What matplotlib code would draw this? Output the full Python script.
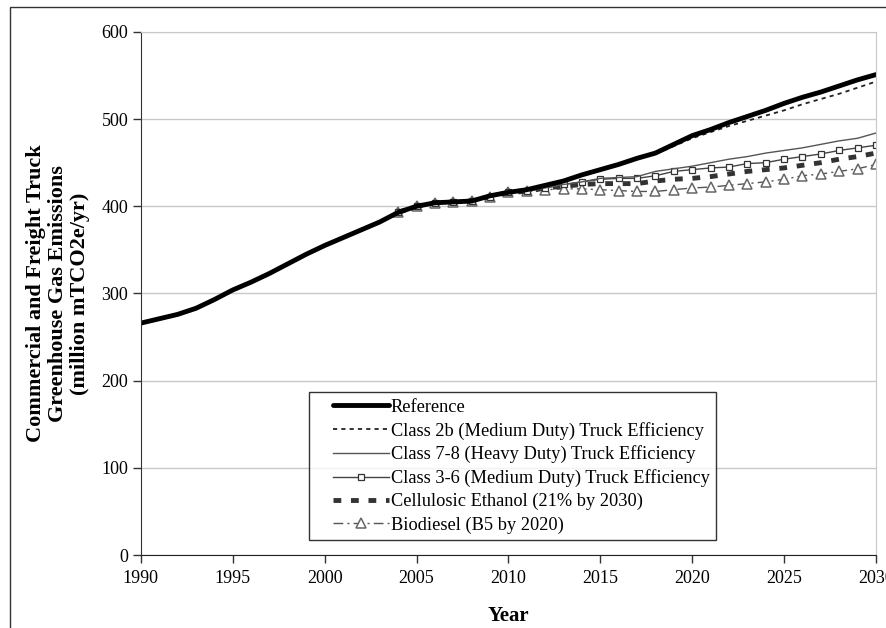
import matplotlib
matplotlib.use('Agg')
import matplotlib.pyplot as plt
from matplotlib.patches import Rectangle
from matplotlib.lines import Line2D
from matplotlib.legend_handler import HandlerLine2D

# Reference case, 1990-2030
ref_years = list(range(1990, 2031))
reference = [266, 271, 276, 283, 293, 304, 313, 323, 334, 345,
             355, 364, 373, 382, 393, 400, 404, 405, 406, 412,
             416, 419, 424, 429, 436, 442, 448, 455, 461, 471,
             481, 488, 496, 503, 510, 518, 525, 531, 538, 545, 551]

# Scenarios, 2004-2030
scen_years = list(range(2004, 2031))
class_2b = [393, 400, 404, 405, 406, 412,
            416, 419, 424, 429, 436, 442, 448, 455, 460, 469,
            478, 485, 492, 498, 504, 510, 517, 523, 529, 536, 543]
class_78 = [393, 400, 404, 405, 406, 411,
            416, 418, 421, 425, 428, 432, 433, 434, 440, 443,
            446, 450, 454, 457, 461, 464, 467, 471, 475, 478, 484]
class_36 = [393, 400, 404, 405, 406, 411,
            416, 417, 421, 425, 428, 431, 432, 432, 435, 440,
            442, 444, 445, 449, 450, 454, 457, 460, 464, 467, 470]
ethanol = [393, 400, 404, 405, 406, 411,
           416, 417, 421, 423, 425, 426, 426, 426, 429, 431,
           432, 434, 437, 440, 442, 444, 447, 450, 454, 457, 461]
biodiesel = [393, 400, 404, 405, 406, 411,
             416, 417, 419, 420, 420, 419, 418, 417, 417, 419,
             421, 422, 424, 426, 428, 431, 435, 437, 440, 443, 448]

labels = ['Reference',
          'Class 2b (Medium Duty) Truck Efficiency',
          'Class 7-8 (Heavy Duty) Truck Efficiency',
          'Class 3-6 (Medium Duty) Truck Efficiency',
          'Cellulosic Ethanol (21% by 2030)',
          'Biodiesel (B5 by 2020)']

plt.rcParams['font.family'] = ['Liberation Serif', 'DejaVu Serif']

fig = plt.figure(figsize=(8.86, 6.28), dpi=100)
ax = fig.add_axes([0.159, 0.1162, 0.8296, 0.833])

# outer border of the chart area
fig.patches.append(Rectangle((0.0113, -0.1), 1.0, 1.0889, transform=fig.transFigure,
                             fill=False, edgecolor='#333333', linewidth=1.0))

ax.plot(scen_years, biodiesel, color='#555555', lw=1.0, dashes=(7, 3, 1.5, 3),
        marker='^', markersize=6.5, markerfacecolor='white', markeredgecolor='#666666',
        markeredgewidth=1.1, label=labels[5])
ax.plot(scen_years, ethanol, color='#333333', lw=3.5, dashes=(1.6, 2.0), label=labels[4])
ax.plot(scen_years, class_36, color='#444444', lw=1.0, marker='s', markersize=4.5,
        markerfacecolor='white', markeredgecolor='#333333', markeredgewidth=0.9,
        label=labels[3])
ax.plot(scen_years, class_78, color='#555555', lw=1.0, label=labels[2])
ax.plot(scen_years, class_2b, color='#222222', lw=1.3, dashes=(2.3, 2.3), label=labels[1])
ax.plot(ref_years, reference, color='black', lw=3.5, solid_capstyle='round', label=labels[0])

ax.set_xlim(1990, 2030)
ax.set_ylim(0, 600)
ax.set_xticks(range(1990, 2031, 5))
ax.set_yticks(range(0, 601, 100))
ax.grid(axis='y', color='#c8c8c8', lw=1.0)
ax.set_axisbelow(True)
ax.tick_params(direction='out', length=5.5, width=1, labelsize=13, color='#333333')
ax.tick_params(axis='x', pad=5)
for s in ['top', 'right']:
    ax.spines[s].set_color('#c8c8c8')
ax.spines['left'].set_color('#333333')
ax.spines['bottom'].set_color('#222222')

ax.set_xlabel('Year', fontsize=15, fontweight='bold', labelpad=14)
ax.set_ylabel('Commercial and Freight Truck\nGreenhouse Gas Emissions\n(million mTCO2e/yr)',
              fontsize=16, fontweight='bold', labelpad=8, linespacing=1.13)

h, l = ax.get_legend_handles_labels()
leg = ax.legend(h[::-1], l[::-1], loc='lower left', bbox_to_anchor=(0.2286, 0.0287),
                borderaxespad=0, fontsize=13.2, handlelength=4.02, handletextpad=0.1,
                labelspacing=0.32, borderpad=0.35, frameon=True, fancybox=False,
                edgecolor='black',
                handler_map={Line2D: HandlerLine2D(xpad=0.96, numpoints=1)})
leg.get_frame().set_linewidth(1.0)

fig.savefig('out.png', dpi=100)
